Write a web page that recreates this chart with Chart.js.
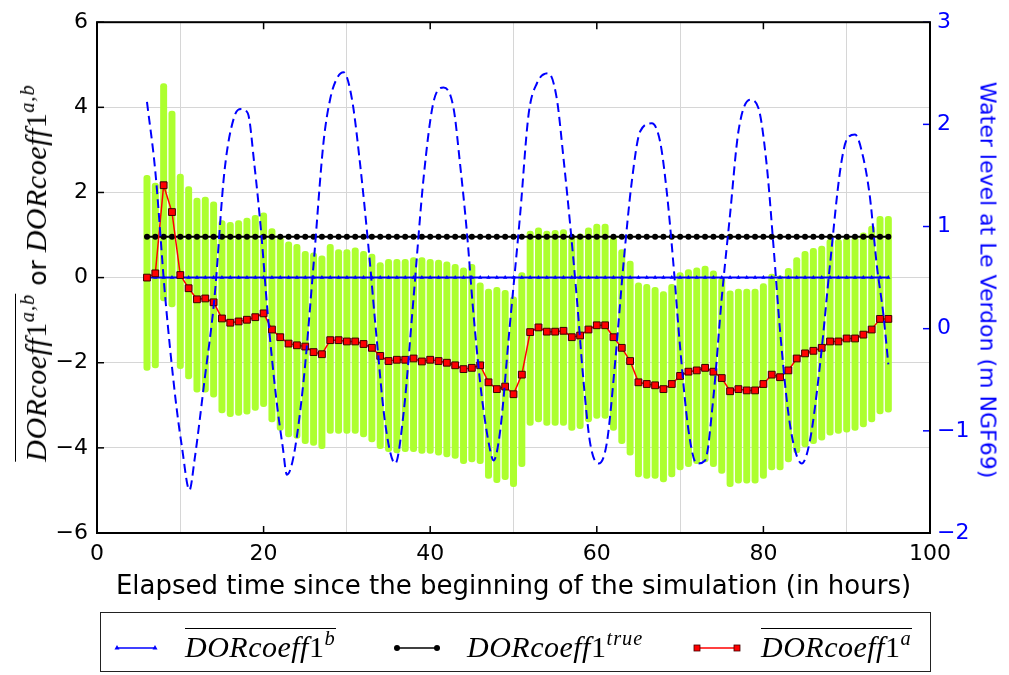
<!DOCTYPE html>
<html>
<head>
<meta charset="utf-8">
<script src="https://cdn.jsdelivr.net/npm/chart.js@4.4.1/dist/chart.umd.min.js"></script>
<style>
  body { margin: 0; background: #fff; }
  #wrap { position: relative; width: 1009px; height: 675px; overflow: hidden; }
  #chart { position: absolute; left: 0; top: 0; }
  .m { font-family: "Liberation Serif", "DejaVu Serif", serif; font-style: italic; letter-spacing: 0.5px; }
  .m i { font-style: normal; }
  .m sup { font-size: 0.68em; vertical-align: 0.6em; line-height: 0; letter-spacing: 1px; }
  .ov { border-top: 1.6px solid #000; padding-top: 3px; }
  .rot { position: absolute; white-space: nowrap; transform: translate(-50%, -50%) rotate(-90deg); }
  #ytitle { left: 36px; top: 273px; font-size: 30px; line-height: 1; }
  #ytitle .or { font-family: "DejaVu Sans", sans-serif; font-style: normal; font-size: 25px; }
  #rtitle { left: 988px; top: 280px; font-family: "DejaVu Sans", sans-serif; font-size: 22px;
            color: #0000ff; transform: translate(-50%, -50%) rotate(90deg); }
  #legend { position: absolute; left: 100px; top: 612px; width: 831px; height: 60px;
            border: 1.5px solid #222; box-sizing: border-box; }
  .item { position: absolute; top: 0; height: 57px; }
  .item svg { position: absolute; top: 29px; }
  .item .lbl { position: absolute; top: 15px; font-size: 30px; line-height: 1; white-space: nowrap; }
</style>
</head>
<body>
<div id="wrap">
  <canvas id="chart" width="1009" height="675"></canvas>
  <div id="ytitle" class="rot"><span class="m ov">DORcoeff<i>1</i><sup>a,b</sup></span><span class="or"> or </span><span class="m">DORcoeff<i>1</i><sup>a,b</sup></span></div>
  <div id="rtitle" class="rot">Water level at Le Verdon (m NGF69)</div>
  <div id="legend">
    <div class="item" style="left:12px">
      <svg width="46" height="12"><line x1="4" y1="6" x2="42" y2="6" stroke="#0000ff" stroke-width="1.5"/>
        <polygon points="4,3 1.5,7.5 6.5,7.5" fill="#0000ff"/><polygon points="42,3 39.5,7.5 44.5,7.5" fill="#0000ff"/></svg>
      <span class="lbl m ov" style="left:72px">DORcoeff<i>1</i><sup>b</sup></span>
    </div>
    <div class="item" style="left:292px">
      <svg width="50" height="12"><line x1="4" y1="6" x2="44" y2="6" stroke="#000" stroke-width="1.5"/>
        <circle cx="4" cy="6" r="3" fill="#000"/><circle cx="44" cy="6" r="3" fill="#000"/></svg>
      <span class="lbl m" style="left:74px; top:19px">DORcoeff<i>1</i><sup>true</sup></span>
    </div>
    <div class="item" style="left:592px">
      <svg width="50" height="12"><line x1="4" y1="6" x2="44" y2="6" stroke="#ff0000" stroke-width="1.5"/>
        <rect x="1" y="3" width="6" height="6" fill="#ff0000" stroke="#400" stroke-width="0.8"/>
        <rect x="41" y="3" width="6" height="6" fill="#ff0000" stroke="#400" stroke-width="0.8"/></svg>
      <span class="lbl m ov" style="left:68px">DORcoeff<i>1</i><sup>a</sup></span>
    </div>
  </div>
</div>
<script>
// hours of the analysis cycles
const hours = [6, 7, 8, 9, 10, 11, 12, 13, 14, 15, 16, 17, 18, 19, 20, 21, 22, 23, 24, 25,
  26, 27, 28, 29, 30, 31, 32, 33, 34, 35, 36, 37, 38, 39, 40, 41, 42, 43, 44, 45,
  46, 47, 48, 49, 50, 51, 52, 53, 54, 55, 56, 57, 58, 59, 60, 61, 62, 63, 64, 65,
  66, 67, 68, 69, 70, 71, 72, 73, 74, 75, 76, 77, 78, 79, 80, 81, 82, 83, 84, 85,
  86, 87, 88, 89, 90, 91, 92, 93, 94, 95];

// mean of analysis (red squares)
const meanA = [0.00, 0.10, 2.17, 1.54, 0.06, -0.25, -0.51, -0.49, -0.58, -0.96,
  -1.06, -1.03, -0.99, -0.93, -0.84, -1.22, -1.40, -1.55, -1.59, -1.62,
  -1.75, -1.80, -1.47, -1.47, -1.50, -1.50, -1.56, -1.65, -1.84, -1.96,
  -1.93, -1.93, -1.90, -1.97, -1.93, -1.96, -2.00, -2.06, -2.15, -2.12,
  -2.06, -2.46, -2.62, -2.56, -2.74, -2.28, -1.28, -1.17, -1.27, -1.27,
  -1.25, -1.40, -1.36, -1.22, -1.12, -1.12, -1.40, -1.65, -1.96, -2.46,
  -2.50, -2.53, -2.62, -2.50, -2.31, -2.21, -2.18, -2.12, -2.21, -2.36,
  -2.67, -2.62, -2.65, -2.65, -2.50, -2.28, -2.34, -2.18, -1.90, -1.78,
  -1.72, -1.65, -1.50, -1.50, -1.43, -1.43, -1.34, -1.22, -0.97, -0.97];

// mean of background (blue triangles)
const meanB = [0, 0, 0, 0, 0, 0, 0, 0, 0, 0, 0, 0, 0, 0, 0, 0, 0, 0, 0, 0,
  0, 0, 0, 0, 0, 0, 0, 0, 0, 0, 0, 0, 0, 0, 0, 0, 0, 0, 0, 0,
  0, 0, 0, 0, 0, 0, 0, 0, 0, 0, 0, 0, 0, 0, 0, 0, 0, 0, 0, 0,
  0, 0, 0, 0, 0, 0, 0, 0, 0, 0, 0, 0, 0, 0, 0, 0, 0, 0, 0, 0,
  0, 0, 0, 0, 0, 0, 0, 0, 0, 0];

// true value (black dots)
const trueVal = [0.96, 0.96, 0.96, 0.96, 0.96, 0.96, 0.96, 0.96, 0.96, 0.96,
  0.96, 0.96, 0.96, 0.96, 0.96, 0.96, 0.96, 0.96, 0.96, 0.96,
  0.96, 0.96, 0.96, 0.96, 0.96, 0.96, 0.96, 0.96, 0.96, 0.96,
  0.96, 0.96, 0.96, 0.96, 0.96, 0.96, 0.96, 0.96, 0.96, 0.96,
  0.96, 0.96, 0.96, 0.96, 0.96, 0.96, 0.96, 0.96, 0.96, 0.96,
  0.96, 0.96, 0.96, 0.96, 0.96, 0.96, 0.96, 0.96, 0.96, 0.96,
  0.96, 0.96, 0.96, 0.96, 0.96, 0.96, 0.96, 0.96, 0.96, 0.96,
  0.96, 0.96, 0.96, 0.96, 0.96, 0.96, 0.96, 0.96, 0.96, 0.96,
  0.96, 0.96, 0.96, 0.96, 0.96, 0.96, 0.96, 0.96, 0.96, 0.96];

// ensemble spread (green members): highest and lowest member per hour
const ensHigh = [2.40, 2.22, 4.56, 3.91, 2.43, 2.14, 1.87, 1.89, 1.78, 1.34,
  1.30, 1.34, 1.40, 1.46, 1.52, 1.15, 0.96, 0.84, 0.78, 0.62,
  0.58, 0.51, 0.78, 0.66, 0.66, 0.70, 0.62, 0.55, 0.35, 0.43,
  0.43, 0.43, 0.47, 0.47, 0.43, 0.41, 0.37, 0.31, 0.23, 0.31,
  -0.12, -0.27, -0.23, -0.30, -0.45, 0.12, 1.09, 1.17, 1.09, 1.11,
  1.13, 0.97, 1.03, 1.17, 1.26, 1.26, 0.97, 0.66, 0.39, -0.12,
  -0.16, -0.23, -0.33, -0.16, 0.12, 0.19, 0.23, 0.27, 0.16, 0.00,
  -0.31, -0.27, -0.27, -0.27, -0.14, 0.08, 0.04, 0.22, 0.47, 0.62,
  0.69, 0.74, 0.90, 0.90, 0.94, 0.95, 1.05, 1.21, 1.44, 1.44];
const ensLow = [-2.18, -2.12, -0.55, -0.69, -2.14, -2.38, -2.69, -2.69, -2.81, -3.18,
  -3.27, -3.24, -3.21, -3.12, -3.03, -3.39, -3.59, -3.74, -3.78, -3.90,
  -3.94, -4.02, -3.66, -3.66, -3.66, -3.66, -3.74, -3.86, -4.02, -4.09,
  -4.12, -4.09, -4.09, -4.13, -4.13, -4.17, -4.21, -4.25, -4.37, -4.33,
  -4.37, -4.72, -4.82, -4.75, -4.91, -4.44, -3.47, -3.39, -3.47, -3.47,
  -3.47, -3.59, -3.55, -3.39, -3.31, -3.31, -3.59, -3.90, -4.17, -4.68,
  -4.72, -4.72, -4.80, -4.68, -4.52, -4.44, -4.37, -4.33, -4.44, -4.60,
  -4.91, -4.83, -4.83, -4.83, -4.72, -4.52, -4.52, -4.33, -4.12, -3.98,
  -3.90, -3.82, -3.70, -3.66, -3.63, -3.59, -3.51, -3.39, -3.20, -3.16];

// water level at Le Verdon (right axis)
const waterTime = [6.0, 7.0, 8.2, 9.4, 10.2, 11.1, 11.7, 12.9, 14.1, 15.3, 16.5, 17.3, 18.1, 18.9,
  19.7, 20.5, 21.5, 22.3, 22.8, 23.6, 24.8, 26.0, 27.2, 28.0, 28.8, 29.6, 30.6, 31.6,
  32.6, 33.6, 34.6, 35.8, 36.8, 38.0, 39.2, 40.4, 41.6, 42.8, 43.6, 44.4, 45.2, 46.2,
  47.2, 47.6, 48.4, 49.5, 50.8, 51.8, 52.8, 54.2, 55.2, 56.0, 56.8, 57.6, 58.4, 59.2,
  60.2, 61.2, 62.2, 63.2, 64.2, 65.2, 66.6, 67.6, 68.4, 69.2, 70.0, 71.0, 72.0, 73.0,
  74.0, 75.0, 76.0, 77.0, 78.4, 79.4, 80.4, 81.2, 82.0, 83.0, 83.8, 84.6, 85.6, 86.8,
  88.0, 89.2, 90.0, 91.0, 92.0, 92.8, 93.6, 94.4, 95.0];
const waterLevel = [2.22, 1.54, 0.30, -0.67, -1.16, -1.58, -1.29, -0.51, 0.30, 1.54, 2.08, 2.15, 2.11, 1.60,
  0.95, 0.14, -0.67, -1.16, -1.43, -1.25, -0.51, 0.63, 1.83, 2.25, 2.45, 2.51, 2.25, 1.60,
  0.79, -0.12, -0.93, -1.32, -0.83, 0.30, 1.47, 2.22, 2.36, 2.16, 1.60, 0.95, 0.14, -0.67,
  -1.19, -1.29, -1.00, -0.02, 1.12, 2.09, 2.40, 2.50, 2.25, 1.67, 1.02, 0.30, -0.51, -1.12,
  -1.32, -1.12, -0.33, 0.63, 1.44, 1.93, 2.01, 1.83, 1.34, 0.63, -0.18, -0.99, -1.32, -1.29,
  -0.67, 0.30, 1.12, 1.93, 2.24, 2.16, 1.60, 0.82, -0.02, -0.83, -1.19, -1.32, -1.09, -0.35,
  0.63, 1.54, 1.85, 1.90, 1.67, 1.28, 0.63, 0.14, -0.35];

const xTicks = [0, 20, 40, 60, 80, 100];
const yTicks = [-6, -4, -2, 0, 2, 4, 6];
const y2Ticks = [-2, -1, 0, 1, 2, 3];

const pts = (xs, ys) => xs.map((x, i) => ({ x: x, y: ys[i] }));
const minus = v => String(v).replace('-', '\u2212');
const tickFont = { family: 'DejaVu Sans', size: 22 };

// black frame with inward ticks like the original
const frame = {
  id: 'frame',
  afterDraw(chart) {
    const { ctx, chartArea: a, scales } = chart;
    ctx.save();
    ctx.lineWidth = 1.5;
    ctx.strokeStyle = '#000';
    xTicks.forEach(t => {
      const x = scales.x.getPixelForValue(t);
      ctx.beginPath();
      ctx.moveTo(x, a.bottom); ctx.lineTo(x, a.bottom - 7);
      ctx.moveTo(x, a.top); ctx.lineTo(x, a.top + 7);
      ctx.stroke();
    });
    yTicks.forEach(t => {
      const y = scales.y.getPixelForValue(t);
      ctx.beginPath();
      ctx.moveTo(a.left, y); ctx.lineTo(a.left + 7, y);
      ctx.stroke();
    });
    ctx.strokeStyle = '#0000ff';
    y2Ticks.forEach(t => {
      const y = scales.y2.getPixelForValue(t);
      ctx.beginPath();
      ctx.moveTo(a.right, y); ctx.lineTo(a.right - 7, y);
      ctx.stroke();
    });
    ctx.strokeStyle = '#000';
    ctx.lineWidth = 2;
    ctx.strokeRect(a.left, a.top, a.right - a.left, a.bottom - a.top);
    ctx.restore();
  }
};

new Chart(document.getElementById('chart'), {
  type: 'bar',
  data: {
    datasets: [
      {
        type: 'line',
        data: pts(waterTime, waterLevel),
        yAxisID: 'y2',
        borderColor: '#0000ff',
        borderWidth: 2,
        borderDash: [9, 5],
        pointRadius: 0,
        cubicInterpolationMode: 'monotone',
        order: 0
      },
      {
        type: 'line',
        data: pts(hours, meanA),
        yAxisID: 'y',
        borderColor: '#ff0000',
        borderWidth: 1.5,
        pointStyle: 'rect',
        pointRadius: 4.8,
        pointBackgroundColor: '#ff0000',
        pointBorderColor: '#3a0000',
        pointBorderWidth: 1,
        order: 1
      },
      {
        type: 'line',
        data: pts(hours, trueVal),
        yAxisID: 'y',
        borderColor: '#000',
        borderWidth: 2,
        pointStyle: 'circle',
        pointRadius: 3,
        pointBackgroundColor: '#000',
        pointBorderWidth: 0,
        order: 2
      },
      {
        type: 'line',
        data: pts(hours, meanB),
        yAxisID: 'y',
        borderColor: '#0000ff',
        borderWidth: 2,
        pointStyle: 'triangle',
        pointRadius: 2.5,
        pointBackgroundColor: '#0000ff',
        pointBorderWidth: 0,
        order: 3
      },
      {
        type: 'bar',
        data: hours.map((h, i) => ({ x: h, y: [ensLow[i], ensHigh[i]] })),
        yAxisID: 'y',
        backgroundColor: '#adff2f',
        barThickness: 6.3,
        borderRadius: 3,
        borderSkipped: false,
        order: 4
      }
    ]
  },
  options: {
    responsive: false,
    animation: false,
    layout: { padding: { top: 22, left: 0, right: 0, bottom: 68 } },
    plugins: { legend: { display: false }, tooltip: { enabled: false } },
    scales: {
      x: {
        type: 'linear',
        min: 0, max: 100,
        offset: false,
        afterBuildTicks: s => { s.ticks = xTicks.map(v => ({ value: v })); },
        afterFit: s => { s.height = 74; },
        grid: { color: '#d6d6d6', drawTicks: false },
        border: { display: false },
        ticks: { color: '#000', font: tickFont, padding: 8, maxRotation: 0 },
        title: {
          display: true,
          text: 'Elapsed time since the beginning of the simulation (in hours)',
          color: '#000',
          font: { family: 'DejaVu Sans', size: 26 },
          padding: { top: 0, bottom: 4 }
        }
      },
      y: {
        position: 'left',
        min: -6, max: 6,
        afterBuildTicks: s => { s.ticks = yTicks.map(v => ({ value: v })); },
        afterFit: s => { s.width = 97; },
        grid: { color: '#d6d6d6', drawTicks: false },
        border: { display: false },
        ticks: { color: '#000', font: tickFont, padding: 9, callback: minus }
      },
      y2: {
        position: 'right',
        min: -2, max: 3,
        afterBuildTicks: s => { s.ticks = y2Ticks.map(v => ({ value: v })); },
        afterFit: s => { s.width = 79; },
        grid: { display: false, drawTicks: false },
        border: { display: false },
        ticks: { color: '#0000ff', font: tickFont, padding: 7, callback: minus }
      }
    }
  },
  plugins: [frame]
});
</script>
</body>
</html>
